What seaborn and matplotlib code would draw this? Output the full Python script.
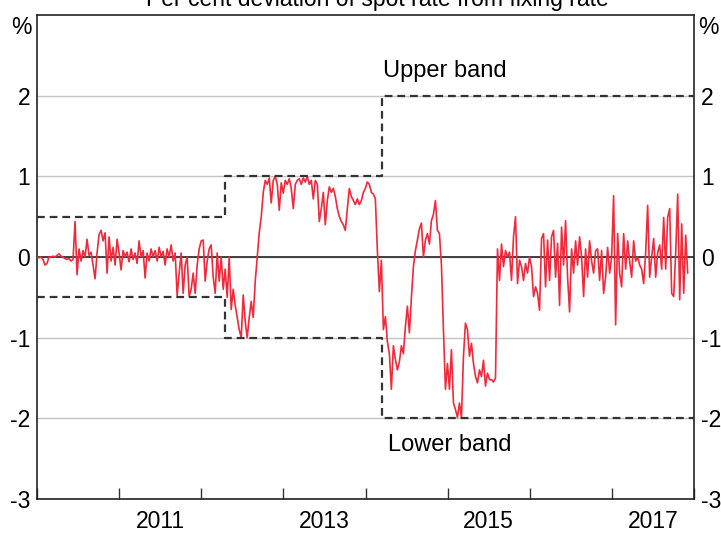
import numpy as np
import pandas as pd
import seaborn as sns
import matplotlib.pyplot as plt
import matplotlib.dates as mdates

# ------------------------------
# data: per cent deviation of spot rate from fixing rate
# (roughly every 9 days, one list per year)
# ------------------------------
dev_2010 = [0.0, -0.01, 0.0, -0.03, -0.1, -0.08, 0.0, 0.0, 0.01, 0.0,
            0.02, 0.04, 0.01, 0.0, -0.02, -0.03, -0.02, -0.05, -0.03, 0.44,
            -0.22, 0.1, -0.05, 0.08, 0.0, 0.22, 0.02, 0.06, -0.1, -0.27,
            0.05, 0.28, 0.33, 0.2, 0.3, -0.2, 0.25, -0.05, 0.12, -0.1, 0.22]
dev_2011 = [0.05, -0.16, 0.08, 0.0, 0.06, -0.06, 0.1, -0.03, 0.05, -0.08,
            0.2, 0.0, 0.08, -0.26, 0.05, -0.05, 0.1, 0.0, 0.08, -0.05,
            0.12, 0.0, 0.07, -0.1, 0.1, 0.0, 0.15, -0.05, 0.05, -0.48,
            -0.2, 0.05, -0.45, -0.1, 0.0, -0.49, -0.4, -0.2, -0.45, -0.1, 0.1]
dev_2012 = [0.2, 0.21, -0.3, -0.05, 0.1, 0.15, -0.25, -0.45, 0.05, -0.3,
            0.0, -0.4, -0.15, -0.5, 0.0, -0.65, -0.4, -0.6, -0.75, -0.9,
            -1.0, -0.47, -0.8, -1.0, -0.75, -0.55, -0.75, -0.3, 0.0, 0.3,
            0.5, 0.8, 0.95, 0.9, 0.98, 0.67, 0.95, 1.0, 0.9, 0.58, 0.92]
dev_2013 = [0.79, 0.95, 0.9, 0.97, 0.85, 0.6, 0.9, 0.95, 0.97, 0.9,
            0.98, 0.93, 1.0, 0.9, 0.95, 0.72, 0.95, 0.9, 0.44, 0.6,
            0.8, 0.4, 0.7, 0.87, 0.8, 0.85, 0.75, 0.6, 0.5, 0.44,
            0.4, 0.33, 0.6, 0.85, 0.75, 0.7, 0.65, 0.72, 0.65, 0.7, 0.8]
dev_2014 = [0.85, 0.93, 0.9, 0.8, 0.78, 0.72, 0.08, -0.43, -0.04, -0.9,
            -0.74, -1.05, -1.2, -1.64, -1.1, -1.27, -1.4, -1.3, -1.1, -1.2,
            -0.86, -0.61, -0.94, -0.5, -0.12, 0.08, 0.21, 0.35, 0.42, 0.0,
            0.21, 0.29, 0.16, 0.45, 0.53, 0.7, 0.33, 0.29, -0.1, -0.9, -1.64]
dev_2015 = [-1.32, -1.64, -1.15, -1.81, -1.89, -1.99, -1.81, -1.99, -1.23, -0.82,
            -0.9, -1.23, -1.07, -1.32, -1.48, -1.56, -1.4, -1.48, -1.28, -1.6,
            -1.44, -1.52, -1.52, -1.55, -1.5, 0.1, -0.29, 0.16, -0.12, 0.08,
            0.0, 0.06, -0.29, 0.25, 0.5, -0.33, -0.04, -0.12, -0.29, -0.08, -0.2]
dev_2016 = [0.0, -0.12, -0.49, -0.37, -0.45, -0.66, 0.23, 0.29, -0.37, 0.21,
            -0.29, 0.25, 0.33, -0.25, 0.17, -0.6, 0.37, -0.1, 0.45, -0.25,
            -0.68, 0.1, -0.2, 0.2, -0.1, 0.25, 0.0, -0.49, 0.1, -0.25,
            0.2, -0.05, -0.2, 0.08, 0.1, -0.29, 0.08, -0.45, -0.25, 0.12, -0.2]
dev_2017 = [0.0, 0.76, -0.84, 0.29, -0.2, -0.37, 0.29, -0.15, 0.2, -0.05,
            -0.25, 0.2, -0.05, 0.0, -0.1, -0.15, -0.33, 0.05, 0.64, -0.25,
            0.0, 0.23, -0.25, 0.05, 0.15, -0.15, 0.49, -0.15, 0.49, 0.6,
            -0.45, -0.49, 0.05, 0.78, -0.53, 0.41, -0.45, 0.27, -0.2]

spot_dev = (dev_2010 + dev_2011 + dev_2012 + dev_2013 +
            dev_2014 + dev_2015 + dev_2016 + dev_2017)
dates = pd.date_range("2010-01-01", "2017-12-04", periods=len(spot_dev))
df = pd.DataFrame({"date": dates, "dev": spot_dev})

# trading band around the fixing rate
band_dates = pd.to_datetime(["2010-01-01", "2012-04-16", "2014-03-17", "2018-01-01"])
upper_band = [0.5, 1.0, 2.0, 2.0]
lower_band = [-0.5, -1.0, -2.0, -2.0]

y_ticks = [-3, -2, -1, 0, 1, 2]
x_label_years = [2011, 2013, 2015, 2017]

# ------------------------------
# plot
# ------------------------------
sns.set_theme(style="white")
plt.rcParams['font.family'] = ['Liberation Sans', 'DejaVu Sans']
plt.rcParams['text.color'] = 'black'
plt.rcParams['xtick.labelcolor'] = 'black'
plt.rcParams['ytick.labelcolor'] = 'black'

fig, ax = plt.subplots(figsize=(7.21, 5.33), dpi=100)
fig.subplots_adjust(left=37/721, right=694/721, bottom=1-499/533, top=1-15/533)

ax.axhline(0, color="#333333", lw=1.3, zorder=2)

sns.lineplot(data=df, x="date", y="dev", color="#ee2a3c", lw=1.2, ax=ax, zorder=3)

for band in (upper_band, lower_band):
    sns.lineplot(x=band_dates, y=band, drawstyle="steps-post",
                 color="#333333", lw=1.6, ax=ax, zorder=4)
    ax.lines[-1].set_dashes((3.5, 2.2))

ax.set_xlim(pd.Timestamp("2010-01-01"), pd.Timestamp("2018-01-01"))
ax.set_ylim(-3, 3)
ax.set_xlabel("")
ax.set_ylabel("")

# y axis labels both sides, grid lines
ax.set_yticks(y_ticks, labels=[str(v) for v in y_ticks])
ax.tick_params(axis="y", length=0, labelsize=16.5, pad=5,
               labelleft=True, labelright=True)
ax.yaxis.grid(True, color="#c4c4c4", lw=1)
ax.xaxis.grid(False)
ax.set_axisbelow(True)

# x axis: ticks at year boundaries, labels mid-year on odd years
ax.xaxis.set_major_locator(mdates.YearLocator())
ax.xaxis.set_major_formatter(plt.NullFormatter())
ax.set_xticks([pd.Timestamp(f"{y}-07-02") for y in x_label_years],
              labels=[str(y) for y in x_label_years], minor=True)
ax.tick_params(axis="x", which="major", bottom=True, direction="in",
               length=8, width=1, color="#333333")
ax.tick_params(axis="x", which="minor", bottom=True, length=0,
               labelsize=16.5, pad=8)

for sp in ax.spines.values():
    sp.set_color("#222222")
    sp.set_linewidth(1.2)

ax.annotate("%", xy=(0, 1), xycoords="axes fraction", xytext=(-4, -1),
            textcoords="offset points", ha="right", va="top", fontsize=16.5)
ax.annotate("%", xy=(1, 1), xycoords="axes fraction", xytext=(3, -1),
            textcoords="offset points", ha="left", va="top", fontsize=16.5)

ax.text(pd.Timestamp("2014-03-20"), 2.31, "Upper band", ha="left",
        va="center", fontsize=17)
ax.text(pd.Timestamp("2014-04-12"), -2.33, "Lower band", ha="left",
        va="center", fontsize=17)

fig.text(0.524, 1 - 6/533, "Per cent deviation of spot rate from fixing rate",
         ha="center", va="baseline", fontsize=16.5)

plt.savefig("out.png", dpi=100)
